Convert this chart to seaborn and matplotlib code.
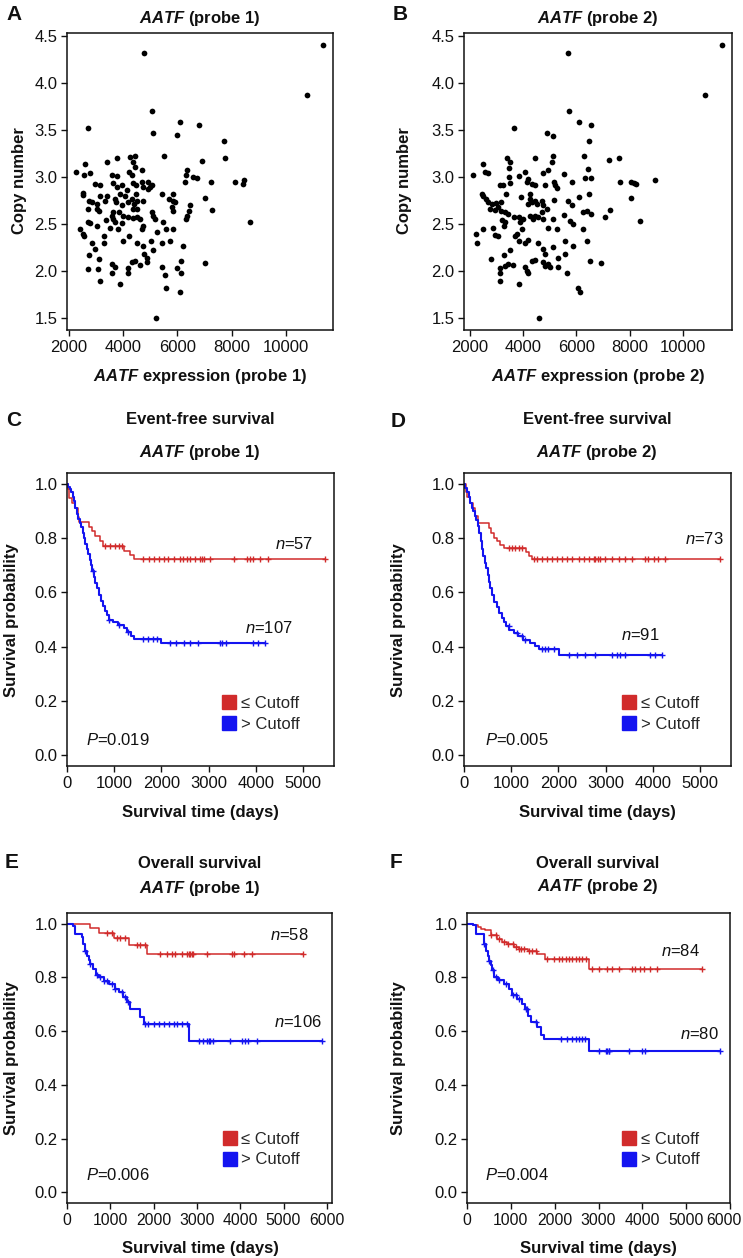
import numpy as np
import pandas as pd
import matplotlib
matplotlib.use("Agg")
import matplotlib.pyplot as plt
import matplotlib.transforms as mtransforms
import seaborn as sns
from matplotlib.lines import Line2D

# ---------------- data ----------------
a_expr = [11359, 10771, 4769, 2698, 5050, 5111, 6092, 5969, 6802, 7709, 7758, 5516, 6900, 2270, 2600,
          2563, 2784, 3397, 3789, 3580, 3764, 4254, 4438, 4377, 4438, 4683, 4230, 4316, 6337, 6312,
          6582, 6729, 6275, 7243, 8125, 8444, 8432, 2515, 2968, 3152, 3617, 3764, 3948, 4132, 4377,
          4475, 4683, 4744, 4928, 4989, 5050, 4928, 5418, 5822, 5847, 5908, 5675, 7023, 6459, 6410,
          6337, 6312, 7255, 8664, 5785, 5822, 2502, 2723, 2858, 3029, 3323, 2686, 3029, 3127, 3703,
          3740, 3887, 4071, 3948, 4193, 4340, 4414, 4500, 4744, 4377, 4524, 3642, 3580, 3617, 3850,
          4009, 4193, 4377, 4500, 4622, 5050, 5111, 5173, 4744, 4708, 5479, 5565, 5847, 2417, 2502,
          2539, 2686, 2760, 3029, 3353, 3500, 3703, 3826, 3948, 2845, 3299, 3299, 4009, 4230, 4524,
          5025, 4720, 5418, 5724, 6214, 2968, 2723, 3115, 5111, 4769, 4866, 4891, 4438, 4316, 6128,
          7011, 2686, 3054, 3580, 3703, 3580, 4193, 4169, 4622, 5418, 5541, 5969, 6128, 3152, 3887,
          5565, 6104, 5222, 4475, 5234, 3152, 3397]
a_copy = [4.41, 3.87, 4.32, 3.52, 3.70, 3.47, 3.59, 3.45, 3.55, 3.38, 3.20, 3.22, 3.17, 3.05, 3.14,
          3.02, 3.04, 3.16, 3.20, 3.02, 3.01, 3.21, 3.22, 3.16, 3.11, 3.07, 3.05, 3.02, 3.08, 3.02,
          3.00, 2.99, 2.95, 2.95, 2.95, 2.97, 2.93, 2.83, 2.93, 2.91, 2.94, 2.89, 2.92, 2.86, 2.94,
          2.91, 2.95, 2.89, 2.95, 2.89, 2.91, 2.87, 2.82, 2.82, 2.75, 2.73, 2.77, 2.78, 2.70, 2.64,
          2.59, 2.55, 2.65, 2.52, 2.68, 2.64, 2.81, 2.75, 2.73, 2.71, 2.74, 2.66, 2.66, 2.64, 2.77,
          2.73, 2.82, 2.80, 2.70, 2.73, 2.77, 2.71, 2.75, 2.75, 2.66, 2.66, 2.625, 2.59, 2.55, 2.625,
          2.58, 2.57, 2.56, 2.57, 2.55, 2.63, 2.59, 2.55, 2.48, 2.45, 2.52, 2.45, 2.45, 2.45, 2.39,
          2.375, 2.52, 2.51, 2.48, 2.54, 2.46, 2.52, 2.45, 2.51, 2.30, 2.375, 2.30, 2.32, 2.37, 2.30,
          2.32, 2.26, 2.30, 2.32, 2.27, 2.23, 2.17, 2.125, 2.225, 2.18, 2.14, 2.09, 2.11, 2.09, 2.11,
          2.08, 2.02, 2.02, 2.07, 2.04, 1.975, 2.03, 1.98, 2.06, 2.04, 1.96, 2.03, 1.975, 1.89, 1.86,
          1.82, 1.77, 1.50, 2.82, 2.41, 2.80, 2.80]

b_expr = [11458, 10830, 5680, 5730, 3658, 6107, 6547, 4889, 5140, 6484, 4449, 5140, 5077, 3382, 3507,
          6296, 7212, 7589, 6421, 2502, 2565, 2666, 2126, 3469, 3469, 3846, 4072, 4198, 4763, 4952,
          5555, 6334, 6560, 7652, 8946, 8066, 8155, 8243, 3116, 3240, 3366, 3507, 4135, 4324, 4449,
          4826, 5178, 5203, 5266, 5831, 2440, 2502, 2603, 2691, 2816, 2967, 3168, 2753, 2942, 3068,
          3168, 3319, 3922, 4248, 4261, 4198, 4324, 4449, 4512, 4700, 4763, 4889, 5178, 5705, 5831,
          6484, 6107, 8066, 7275, 6233, 6396, 6559, 5555, 7087, 8381, 3444, 3658, 3846, 4010, 3884,
          4261, 4386, 4449, 4575, 4700, 4763, 5140, 5768, 5869, 6233, 3193, 3319, 3294, 2854, 2502,
          2214, 2251, 2942, 3043, 3696, 3771, 3947, 4072, 3846, 4173, 4952, 5266, 4575, 5580, 6397,
          5894, 3507, 3294, 2791, 5140, 4763, 4826, 5304, 5580, 4449, 4324, 4763, 4826, 4952, 5015,
          6522, 6937, 3131, 3319, 3419, 3633, 3131, 4072, 4135, 4198, 5328, 5642, 3131, 3846, 6057,
          6120, 4600]
b_copy = [4.41, 3.87, 4.32, 3.70, 3.52, 3.59, 3.55, 3.47, 3.44, 3.38, 3.20, 3.22, 3.16, 3.20, 3.16,
          3.22, 3.18, 3.20, 3.09, 3.14, 3.05, 3.04, 3.02, 3.10, 3.00, 3.01, 3.05, 2.975, 3.04, 3.07,
          3.03, 2.99, 2.995, 2.95, 2.97, 2.95, 2.94, 2.925, 2.91, 2.91, 2.82, 2.94, 2.95, 2.93, 2.91,
          2.92, 2.95, 2.91, 2.88, 2.95, 2.82, 2.80, 2.77, 2.73, 2.71, 2.72, 2.73, 2.66, 2.65, 2.68,
          2.64, 2.625, 2.79, 2.82, 2.77, 2.71, 2.73, 2.75, 2.71, 2.75, 2.70, 2.66, 2.76, 2.75, 2.70,
          2.82, 2.79, 2.78, 2.65, 2.625, 2.64, 2.61, 2.60, 2.57, 2.53, 2.61, 2.57, 2.57, 2.55, 2.52,
          2.59, 2.55, 2.59, 2.57, 2.625, 2.55, 2.55, 2.53, 2.50, 2.45, 2.54, 2.52, 2.48, 2.46, 2.45,
          2.39, 2.30, 2.38, 2.37, 2.37, 2.39, 2.45, 2.30, 2.32, 2.33, 2.46, 2.45, 2.30, 2.32, 2.32,
          2.27, 2.225, 2.17, 2.125, 2.25, 2.23, 2.18, 2.14, 2.18, 2.12, 2.10, 2.09, 2.05, 2.07, 2.04,
          2.11, 2.08, 2.03, 2.05, 2.07, 2.06, 1.98, 2.04, 2.00, 1.975, 2.04, 1.98, 1.89, 1.86, 1.82,
          1.77, 1.50]

# Kaplan-Meier step curves (time in days, survival probability) and censor times
c_low_t = [0, 20, 50, 100, 180, 230, 260, 470, 530, 600, 700, 770, 1200, 1330, 1420]
c_low_s = [1.0, 0.982, 0.947, 0.93, 0.912, 0.877, 0.86, 0.842, 0.825, 0.807, 0.79, 0.772, 0.754, 0.737, 0.724]
c_low_c = [800, 920, 1020, 1100, 1160, 1620, 1730, 1840, 1940, 2050, 2150, 2260, 2400, 2460, 2540, 2610,
           2720, 2820, 2860, 2900, 3040, 3530, 3810, 3870, 3950, 4100, 4270, 5470]
c_high_t = [0, 30, 60, 90, 120, 150, 180, 210, 240, 270, 300, 330, 360, 390, 420, 450, 480, 510, 540, 570,
            600, 640, 680, 720, 760, 800, 850, 900, 980, 1080, 1200, 1280, 1350, 1420, 2000]
c_high_s = [1.0, 0.99, 0.98, 0.97, 0.95, 0.935, 0.91, 0.89, 0.87, 0.855, 0.84, 0.82, 0.80, 0.78, 0.76, 0.74,
            0.72, 0.70, 0.68, 0.655, 0.635, 0.615, 0.59, 0.57, 0.55, 0.53, 0.515, 0.50, 0.49, 0.48, 0.47,
            0.455, 0.44, 0.428, 0.413]
c_high_c = [560, 900, 1100, 1300, 1620, 1720, 1830, 1900, 2180, 2320, 2470, 2610, 2780, 3240, 3280, 3380,
            3950, 4050, 4195]

d_low_t = [0, 40, 70, 130, 185, 240, 300, 520, 580, 630, 700, 770, 840, 1310, 1370, 1440]
d_low_s = [1.0, 0.97, 0.95, 0.93, 0.91, 0.88, 0.855, 0.836, 0.82, 0.80, 0.79, 0.775, 0.762, 0.748, 0.735, 0.723]
d_low_c = [950, 1020, 1090, 1160, 1230, 1480, 1550, 1650, 1760, 1860, 1970, 2080, 2180, 2290, 2430, 2540,
           2640, 2750, 2780, 2850, 2890, 2990, 3140, 3280, 3420, 3560, 3840, 3910, 4020, 4120, 4270, 5430]
d_high_t = [0, 30, 60, 100, 130, 170, 200, 230, 260, 290, 320, 350, 380, 410, 440, 470, 500, 530, 560, 600,
            640, 690, 740, 800, 850, 900, 960, 1050, 1150, 1250, 1400, 1500, 1600, 2010]
d_high_s = [1.0, 0.985, 0.97, 0.95, 0.93, 0.91, 0.90, 0.88, 0.865, 0.845, 0.82, 0.79, 0.76, 0.735, 0.71, 0.69,
            0.665, 0.64, 0.615, 0.59, 0.565, 0.545, 0.525, 0.505, 0.49, 0.475, 0.462, 0.45, 0.44, 0.425,
            0.415, 0.403, 0.39, 0.37]
d_high_c = [950, 1120, 1230, 1300, 1650, 1720, 1790, 1900, 2220, 2390, 2570, 2780, 3140, 3240, 3310, 3420,
            3950, 4050, 4195]

e_low_t = [0, 535, 750, 1080, 1440, 1840]
e_low_s = [1.0, 0.985, 0.965, 0.948, 0.92, 0.888]
e_low_c = [920, 1040, 1150, 1230, 1350, 1620, 1690, 1810, 2150, 2310, 2420, 2500, 2650, 2770, 2810, 2850,
           2890, 2920, 3230, 3810, 3850, 4080, 4270, 5460]
e_high_t = [0, 150, 190, 340, 375, 420, 460, 500, 540, 600, 660, 750, 850, 980, 1100, 1200, 1300, 1390,
            1460, 1690, 1770, 2810]
e_high_s = [1.0, 0.99, 0.963, 0.95, 0.925, 0.90, 0.88, 0.865, 0.85, 0.83, 0.81, 0.80, 0.788, 0.776, 0.758,
            0.745, 0.727, 0.71, 0.683, 0.652, 0.627, 0.565]
e_high_c = [420, 540, 690, 770, 850, 920, 1040, 1120, 1270, 1350, 1420, 1800, 1880, 2000, 2120, 2230, 2350,
            2460, 2540, 2650, 2770, 3040, 3150, 3230, 3270, 3310, 3380, 3770, 4040, 4120, 4190, 4380, 5880]

f_low_t = [0, 130, 240, 310, 420, 540, 690, 800, 920, 1070, 1180, 1400, 1600, 1790, 2775]
f_low_s = [1.0, 0.994, 0.988, 0.982, 0.975, 0.957, 0.944, 0.932, 0.925, 0.913, 0.907, 0.90, 0.888, 0.87, 0.83]
f_low_c = [545, 660, 735, 850, 925, 1040, 1115, 1190, 1230, 1300, 1420, 1490, 1570, 1830, 1985, 2100, 2175,
           2250, 2325, 2400, 2480, 2550, 2630, 2705, 2860, 3010, 3200, 3310, 3460, 3765, 3840, 3955, 4030,
           4180, 4330, 5360]
f_high_t = [0, 130, 205, 390, 430, 470, 510, 545, 580, 615, 700, 840, 955, 1030, 1140, 1260, 1330, 1400,
            1460, 1600, 1680, 1750, 2775]
f_high_s = [1.0, 0.994, 0.963, 0.925, 0.90, 0.88, 0.862, 0.845, 0.826, 0.80, 0.789, 0.776, 0.758, 0.733,
            0.72, 0.702, 0.683, 0.658, 0.634, 0.615, 0.584, 0.571, 0.527]
f_high_c = [395, 510, 585, 660, 735, 885, 1040, 1115, 1190, 1340, 1380, 1570, 2135, 2290, 2400, 2480, 2550,
            2630, 2700, 3010, 3160, 3200, 3235, 3250, 3690, 3990, 4070, 5773]

n_labels = {"C": ("57", "107"), "D": ("73", "91"), "E": ("58", "106"), "F": ("84", "80")}
p_labels = {"C": "0.019", "D": "0.005", "E": "0.006", "F": "0.004"}
legend_labels = ["\u2264 Cutoff", "> Cutoff"]

scatter_xticks = [2000, 4000, 6000, 8000, 10000]
scatter_yticks = [1.5, 2.0, 2.5, 3.0, 3.5, 4.0, 4.5]
km_yticks = [0.0, 0.2, 0.4, 0.6, 0.8, 1.0]
km_xticks_cd = [0, 1000, 2000, 3000, 4000, 5000]
km_xticks_ef = [0, 1000, 2000, 3000, 4000, 5000, 6000]

# ---------------- style ----------------
sns.set_theme(style="ticks")
plt.rcParams["font.family"] = ["Liberation Sans", "DejaVu Sans"]
plt.rcParams["mathtext.fontset"] = "custom"
plt.rcParams["mathtext.rm"] = "Liberation Sans"
plt.rcParams["mathtext.it"] = "Liberation Sans:italic"
plt.rcParams["mathtext.bf"] = "Liberation Sans:bold"
plt.rcParams["mathtext.bfit"] = "Liberation Sans:italic:bold"

RED = "#d12b2b"
BLUE = "#1414f0"
W, H = 743, 1258
fig = plt.figure(figsize=(W / 100, H / 100), dpi=100)


def add_ax(l, t, r, b):
    return fig.add_axes([l / W, 1 - b / H, (r - l) / W, (b - t) / H])


def ftext(px, py, s, **kw):
    kw.setdefault("ha", "center")
    kw.setdefault("va", "center")
    fig.text(px / W, 1 - py / H, s, color="#111111", **kw)


def style_ax(ax, xt_size=12):
    for sp in ax.spines.values():
        sp.set_visible(True)
        sp.set_linewidth(1.1)
        sp.set_color("#111111")
    ax.tick_params(axis="both", direction="out", length=4, width=1, color="#111111",
                   labelcolor="#111111", pad=3)
    ax.tick_params(axis="y", labelsize=12)
    ax.tick_params(axis="x", labelsize=xt_size)
    ax.set_xlabel("")
    ax.set_ylabel("")
    ax.grid(False)


def scatter_panel(ax, x, y, xlim):
    sns.scatterplot(x=x, y=y, color="black", s=17, linewidth=0, ax=ax)
    ax.set_xlim(*xlim)
    ax.set_ylim(1.37, 4.535)
    ax.set_xticks(scatter_xticks)
    ax.set_xticklabels([str(v) for v in scatter_xticks])
    ax.set_yticks(scatter_yticks)
    ax.set_yticklabels([f"{v:.1f}" for v in scatter_yticks])
    style_ax(ax)


def km_curve(ax, times, surv, cens, color, lw):
    t_end = max(max(cens), times[-1])
    df = pd.DataFrame({"t": list(times) + [t_end], "s": list(surv) + [surv[-1]]})
    sns.lineplot(data=df, x="t", y="s", drawstyle="steps-post", color=color, linewidth=lw,
                 estimator=None, sort=False, ax=ax)
    idx = np.searchsorted(np.array(times), np.array(cens), side="right") - 1
    cs = np.array(surv)[idx]
    sns.scatterplot(x=cens, y=cs, marker="+", color=color, s=22, linewidth=1.0, ax=ax, zorder=3)


def km_panel(ax, key, low, high, xlim, xticks, xt_size, n_pos, leg_xy, p_xy):
    km_curve(ax, *low, RED, 1.1)
    km_curve(ax, *high, BLUE, 1.5)
    ax.set_xlim(*xlim)
    ax.set_ylim(-0.04, 1.04)
    ax.set_xticks(xticks)
    ax.set_xticklabels([str(v) for v in xticks])
    ax.set_yticks(km_yticks)
    ax.set_yticklabels([f"{v:.1f}" for v in km_yticks])
    style_ax(ax, xt_size)
    nl, nh = n_labels[key]
    ax.text(n_pos[0][0], n_pos[0][1], r"$\it{n}$=" + nl, ha="right", va="center", fontsize=12, color="#111111")
    ax.text(n_pos[1][0], n_pos[1][1], r"$\it{n}$=" + nh, ha="right", va="center", fontsize=12, color="#111111")
    handles = [Line2D([0], [0], marker="s", ls="", color=RED, markersize=9.5),
               Line2D([0], [0], marker="s", ls="", color=BLUE, markersize=9.5)]
    ax.legend(handles, legend_labels, loc="upper left", bbox_to_anchor=leg_xy, frameon=False,
              fontsize=12, handletextpad=0.25, borderpad=0, borderaxespad=0, labelspacing=0.35,
              handlelength=0.9)
    ax.text(p_xy[0], p_xy[1], r"$\it{P}$=" + p_labels[key], transform=ax.transAxes,
            ha="left", va="center", fontsize=12, color="#111111")


# ---------------- panels ----------------
axA = add_ax(67, 33, 333, 330)
scatter_panel(axA, a_expr, a_copy, (1930, 11730))
axB = add_ax(464, 33, 732, 330)
scatter_panel(axB, b_expr, b_copy, (1780, 11850))

axC = add_ax(67, 473, 334, 766)
km_panel(axC, "C", (c_low_t, c_low_s, c_low_c), (c_high_t, c_high_s, c_high_c), (0, 5660),
         km_xticks_cd, 12, ((5212, 0.78), (4790, 0.47)), (0.58, 0.24), (0.071, 0.089))
axD = add_ax(464, 473, 731, 766)
km_panel(axD, "D", (d_low_t, d_low_s, d_low_c), (d_high_t, d_high_s, d_high_c), (0, 5660),
         km_xticks_cd, 12, ((5500, 0.797), (4150, 0.443)), (0.59, 0.24), (0.078, 0.089))
axE = add_ax(67, 913, 332, 1203)
km_panel(axE, "E", (e_low_t, e_low_s, e_low_c), (e_high_t, e_high_s, e_high_c), (0, 6120),
         km_xticks_ef, 11.3, ((5590, 0.957), (5880, 0.634)), (0.585, 0.246), (0.072, 0.097))
axF = add_ax(467, 913, 730, 1203)
km_panel(axF, "F", (f_low_t, f_low_s, f_low_c), (f_high_t, f_high_s, f_high_c), (0, 6000),
         km_xticks_ef, 11.3, ((5318, 0.90), (5735, 0.59)), (0.589, 0.246), (0.067, 0.097))
# nudge the last F tick label a few pixels left so it stays on the canvas
last = axF.get_xticklabels()[-1]
last.set_transform(last.get_transform() + mtransforms.ScaledTranslation(-6 / 100, 0, fig.dpi_scale_trans))

# ---------------- texts ----------------
bold = dict(fontsize=12, fontweight="bold")
ftext(14, 15, "A", fontsize=15, fontweight="bold")
ftext(400, 15, "B", fontsize=15, fontweight="bold")
ftext(14, 420, "C", fontsize=15, fontweight="bold")
ftext(398, 422, "D", fontsize=15, fontweight="bold")
ftext(12, 862, "E", fontsize=15, fontweight="bold")
ftext(396, 862, "F", fontsize=15, fontweight="bold")

ftext(200, 18, r"$\mathbfit{AATF}$ (probe 1)", **bold)
ftext(598, 18, r"$\mathbfit{AATF}$ (probe 2)", **bold)
ftext(20, 181, "Copy number", rotation=90, **bold)
ftext(404, 181, "Copy number", rotation=90, **bold)
ftext(200, 377, r"$\mathbfit{AATF}$ expression (probe 1)", **bold)
ftext(598, 377, r"$\mathbfit{AATF}$ expression (probe 2)", **bold)

ftext(200, 420, "Event-free survival", **bold)
ftext(200, 452, r"$\mathbfit{AATF}$ (probe 1)", **bold)
ftext(597, 420, "Event-free survival", **bold)
ftext(597, 452, r"$\mathbfit{AATF}$ (probe 2)", **bold)
ftext(12, 620, "Survival probability", rotation=90, **bold)
ftext(399, 620, "Survival probability", rotation=90, **bold)
ftext(200, 813, "Survival time (days)", **bold)
ftext(597, 813, "Survival time (days)", **bold)

ftext(200, 863, "Overall survival", **bold)
ftext(200, 888, r"$\mathbfit{AATF}$ (probe 1)", **bold)
ftext(598, 863, "Overall survival", **bold)
ftext(598, 887, r"$\mathbfit{AATF}$ (probe 2)", **bold)
ftext(12, 1058, "Survival probability", rotation=90, **bold)
ftext(399, 1058, "Survival probability", rotation=90, **bold)
ftext(200, 1248, "Survival time (days)", **bold)
ftext(598, 1248, "Survival time (days)", **bold)

fig.savefig("out.png", dpi=100)
